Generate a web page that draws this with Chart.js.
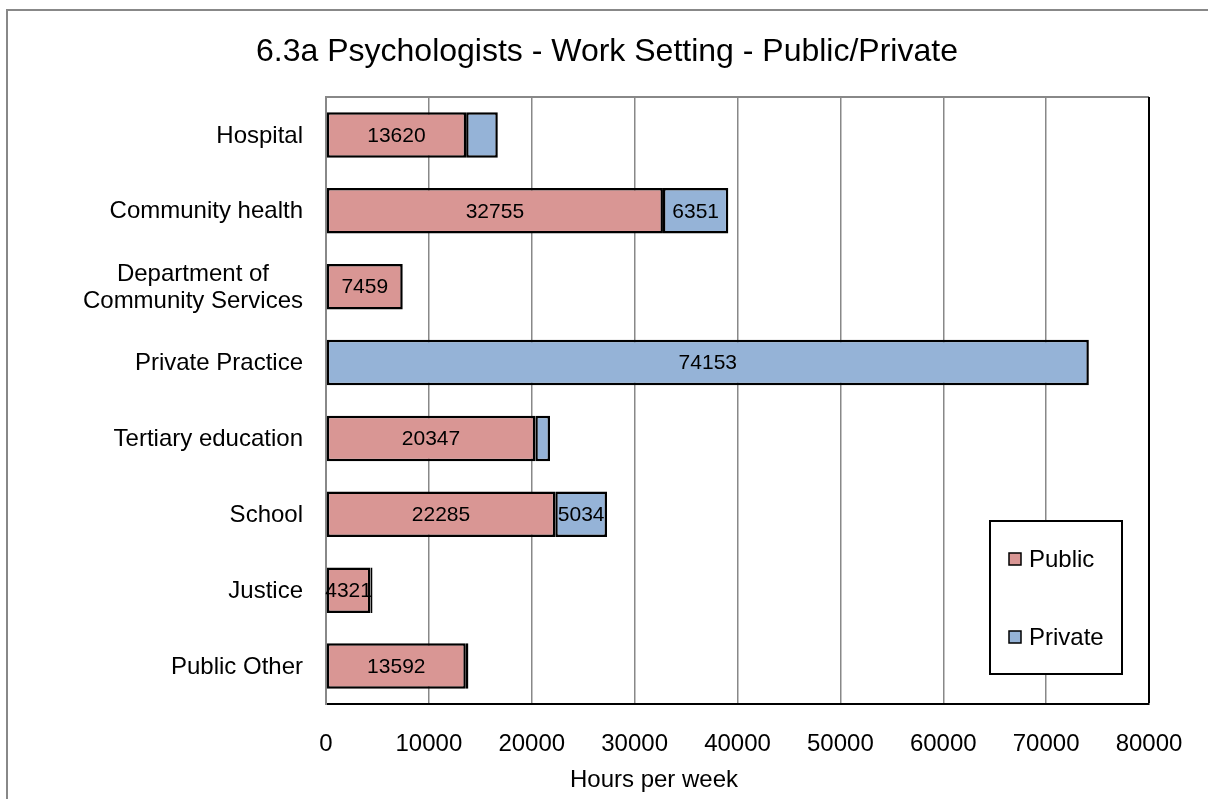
<!DOCTYPE html>
<html>
<head>
<meta charset="utf-8">
<script src="https://cdn.jsdelivr.net/npm/chart.js@4"></script>
<style>
  body { margin: 0; background: #fff; }
</style>
</head>
<body>
<canvas id="myChart" width="1208" height="799"></canvas>
<script>
// categories (multi-line ones as arrays) and the two series
const categories = ["Hospital", "Community health", ["Department of", "Community Services"], "Private Practice",
  "Tertiary education", "School", "Justice", "Public Other"];
const publicHours = [13620, 32755, 7459, 0, 20347, 22285, 4321, 13592];
const privateHours = [3080, 6351, 0, 74153, 1430, 5034, 200, 250];
// which values carry a label in the original
const publicShown = [true, true, true, false, true, true, true, true];
const privateShown = [false, true, false, true, false, true, false, false];
const xTicks = [0, 10000, 20000, 30000, 40000, 50000, 60000, 70000, 80000];

const FONT = "'Liberation Sans', Arial, sans-serif";

// draws the frame, title, category labels, bar labels, axis title and legend box
const decor = {
  id: 'decor',
  beforeDraw(chart) {
    const ctx = chart.ctx;
    const a = chart.chartArea;
    ctx.save();
    ctx.strokeStyle = '#888';
    ctx.lineWidth = 2;
    ctx.strokeRect(7, 10, 1400, 1000);
    // top edge of plot area
    ctx.beginPath();
    ctx.moveTo(a.left, a.top);
    ctx.lineTo(a.right, a.top);
    ctx.stroke();
    ctx.restore();
  },
  afterDatasetsDraw(chart) {
    const ctx = chart.ctx;
    ctx.save();
    ctx.fillStyle = '#000';
    ctx.font = '21px ' + FONT;
    ctx.textAlign = 'center';
    ctx.textBaseline = 'middle';
    const flags = [publicShown, privateShown];
    chart.data.datasets.forEach((ds, d) => {
      chart.getDatasetMeta(d).data.forEach((el, i) => {
        if (!flags[d][i]) return;
        ctx.fillText(String(ds.data[i]), (el.x + el.base) / 2, el.y + 1);
      });
    });
    ctx.restore();
  },
  afterDraw(chart) {
    const ctx = chart.ctx;
    const yScale = chart.scales.y;
    ctx.save();
    ctx.fillStyle = '#000';
    ctx.textBaseline = 'middle';

    // title
    ctx.font = '32px ' + FONT;
    ctx.textAlign = 'center';
    ctx.fillText('6.3a Psychologists - Work Setting - Public/Private', 607, 52);

    // category labels, lines centred on each other, block right aligned
    ctx.font = '24px ' + FONT;
    categories.forEach((c, i) => {
      const lines = Array.isArray(c) ? c : [c];
      const w = Math.max(...lines.map(l => ctx.measureText(l).width));
      const cx = 303 - w / 2;
      const y = yScale.getPixelForValue(i);
      const lh = 27;
      lines.forEach((l, k) => {
        ctx.fillText(l, cx, y + 1 + (k - (lines.length - 1) / 2) * lh);
      });
    });

    // axis title
    ctx.fillText('Hours per week', 654, 780);

    // legend
    ctx.strokeStyle = '#000';
    ctx.lineWidth = 2;
    ctx.fillStyle = '#fff';
    ctx.fillRect(990, 521, 132, 153);
    ctx.strokeRect(990, 521, 132, 153);
    const rows = [559, 637];
    chart.data.datasets.forEach((ds, d) => {
      const y = rows[d];
      ctx.fillStyle = ds.backgroundColor;
      ctx.fillRect(1009, y - 6, 12, 12);
      ctx.lineWidth = 1.5;
      ctx.strokeRect(1009, y - 6, 12, 12);
      ctx.fillStyle = '#000';
      ctx.textAlign = 'left';
      ctx.fillText(ds.label, 1029, y + 1);
    });
    ctx.restore();
  }
};

const data = {
  labels: categories,
  datasets: [{
    label: 'Public',
    data: publicHours,
    backgroundColor: '#D99694',
    borderColor: '#000',
    borderWidth: 2.5,
    borderSkipped: false
  }, {
    label: 'Private',
    data: privateHours,
    backgroundColor: '#95B3D7',
    borderColor: '#000',
    borderWidth: 2.5,
    borderSkipped: false
  }]
};

const config = {
  type: 'bar',
  data: data,
  options: {
    indexAxis: 'y',
    responsive: false,
    animation: false,
    layout: { padding: { left: 0, top: 97, right: 59, bottom: 0 } },
    datasets: { bar: { categoryPercentage: 1, barPercentage: 0.6 } },
    plugins: { legend: { display: false }, title: { display: false }, tooltip: { enabled: false } },
    scales: {
      x: {
        stacked: true,
        min: 0,
        max: 80000,
        afterFit(scale) {
          scale.height = 95;
          scale.paddingLeft = 0;
          scale.paddingRight = 0;
        },
        afterBuildTicks(scale) { scale.ticks = xTicks.map(v => ({ value: v })); },
        grid: {
          drawTicks: false,
          color: ctx => (ctx.tick && ctx.tick.value === 80000 ? '#000' : '#888'),
          lineWidth: ctx => (ctx.tick && ctx.tick.value === 80000 ? 2 : 1.5)
        },
        border: { color: '#000', width: 2 },
        ticks: {
          color: '#000',
          font: { family: FONT, size: 24 },
          padding: 26,
          maxRotation: 0,
          callback: v => String(v)
        }
      },
      y: {
        stacked: true,
        afterFit(scale) { scale.width = 326; },
        grid: { display: false, drawTicks: false },
        border: { color: '#888', width: 2 },
        ticks: { display: false }
      }
    }
  },
  plugins: [decor]
};

const ctx = document.getElementById("myChart").getContext("2d");
const myChart = new Chart(ctx, config);
</script>
</body>
</html>
